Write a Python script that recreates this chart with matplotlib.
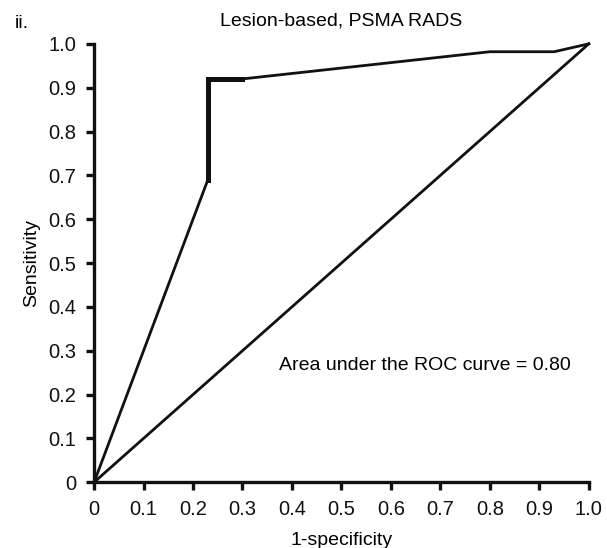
import matplotlib.pyplot as plt

plt.rcParams['font.family'] = ['Liberation Sans', 'DejaVu Sans']

# ROC curve, lesion-based PSMA RADS
fpr = [0.0, 0.23, 0.23, 0.30, 0.80, 0.93, 1.0]
tpr = [0.0, 0.69, 0.92, 0.92, 0.982, 0.982, 1.0]
# thicker step segment
step_fpr = [0.23, 0.23, 0.30]
step_tpr = [0.69, 0.92, 0.92]
auc = 0.80
ticks = [0, 0.1, 0.2, 0.3, 0.4, 0.5, 0.6, 0.7, 0.8, 0.9, 1.0]
tick_labels = ['0', '0.1', '0.2', '0.3', '0.4', '0.5', '0.6', '0.7', '0.8', '0.9', '1.0']

fs = 14
fig = plt.figure(figsize=(6.07, 5.48), dpi=100)
ax = fig.add_axes([0.155, 0.120, 0.815, 0.800])

ax.plot([0, 1], [0, 1], color='#111111', lw=2.0, clip_on=False)
ax.plot(fpr, tpr, color='#111111', lw=2.0, clip_on=False, solid_joinstyle='miter')
ax.plot(step_fpr, step_tpr, color='#111111', lw=3.6, clip_on=False, solid_joinstyle='miter')

ax.set_xlim(0, 1)
ax.set_ylim(0, 1)
ax.set_xticks(ticks)
ax.set_xticklabels(tick_labels)
ax.set_yticks(ticks)
ax.set_yticklabels(tick_labels)
ax.tick_params(direction='out', length=6, width=2.4, labelsize=14.5, colors='#111111', pad=7)

for side in ['top', 'right']:
    ax.spines[side].set_visible(False)
for side in ['left', 'bottom']:
    ax.spines[side].set_linewidth(2.4)
    ax.spines[side].set_color('#111111')

ax.set_xlabel('1-specificity', fontsize=fs, labelpad=9)
ax.set_ylabel('Sensitivity', fontsize=fs, labelpad=6)
fig.text(341 / 607, 1 - 21 / 548, 'Lesion-based, PSMA RADS', ha='center', va='center', fontsize=fs)
fig.text(0.024, 1 - 24 / 548, 'ii.', fontsize=fs, ha='left', va='center')
ax.text(0.374, 0.267, 'Area under the ROC curve = %.2f' % auc, fontsize=fs,
        ha='left', va='center')

fig.savefig('out.png', dpi=100)
